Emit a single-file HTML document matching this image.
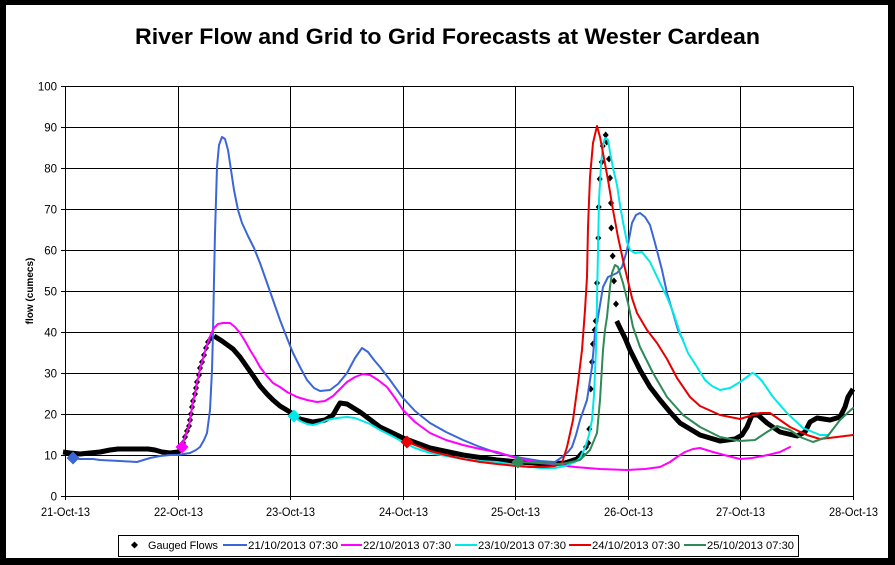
<!DOCTYPE html>
<html>
<head>
<meta charset="utf-8">
<style>
  html, body { margin: 0; padding: 0; background: #000; }
  svg { display: block; }
  text { font-family: "Liberation Sans", Arial, sans-serif; fill: #000; }
</style>
</head>
<body>
<svg width="895" height="565" viewBox="0 0 895 565" xmlns="http://www.w3.org/2000/svg">
  <rect x="0" y="0" width="895" height="565" fill="#000"/>
  <rect x="6" y="5" width="882" height="553" fill="#fff"/>

  <!-- Title -->
  <text x="447.5" y="44" text-anchor="middle" font-size="22" font-weight="bold" textLength="625" lengthAdjust="spacingAndGlyphs">River Flow and Grid to Grid Forecasts at Wester Cardean</text>

  <!-- Gridlines -->
  <g stroke="#000" stroke-width="1" fill="none" shape-rendering="crispEdges">
    <line x1="65.5" y1="86.5" x2="853.5" y2="86.5"/>
    <line x1="65.5" y1="127.5" x2="853.5" y2="127.5"/>
    <line x1="65.5" y1="168.5" x2="853.5" y2="168.5"/>
    <line x1="65.5" y1="209.5" x2="853.5" y2="209.5"/>
    <line x1="65.5" y1="250.5" x2="853.5" y2="250.5"/>
    <line x1="65.5" y1="291.5" x2="853.5" y2="291.5"/>
    <line x1="65.5" y1="332.5" x2="853.5" y2="332.5"/>
    <line x1="65.5" y1="373.5" x2="853.5" y2="373.5"/>
    <line x1="65.5" y1="414.5" x2="853.5" y2="414.5"/>
    <line x1="65.5" y1="455.5" x2="853.5" y2="455.5"/>
    <line x1="61" y1="496.5" x2="853.5" y2="496.5"/>
    <line x1="65.5" y1="86.5" x2="65.5" y2="500"/>
    <line x1="178.5" y1="86.5" x2="178.5" y2="500"/>
    <line x1="290.5" y1="86.5" x2="290.5" y2="500"/>
    <line x1="403.5" y1="86.5" x2="403.5" y2="500"/>
    <line x1="515.5" y1="86.5" x2="515.5" y2="500"/>
    <line x1="628.5" y1="86.5" x2="628.5" y2="500"/>
    <line x1="740.5" y1="86.5" x2="740.5" y2="500"/>
    <line x1="853.5" y1="86.5" x2="853.5" y2="500"/>
    <!-- y ticks -->
    <line x1="61" y1="86.5" x2="65.5" y2="86.5"/>
    <line x1="61" y1="127.5" x2="65.5" y2="127.5"/>
    <line x1="61" y1="168.5" x2="65.5" y2="168.5"/>
    <line x1="61" y1="209.5" x2="65.5" y2="209.5"/>
    <line x1="61" y1="250.5" x2="65.5" y2="250.5"/>
    <line x1="61" y1="291.5" x2="65.5" y2="291.5"/>
    <line x1="61" y1="332.5" x2="65.5" y2="332.5"/>
    <line x1="61" y1="373.5" x2="65.5" y2="373.5"/>
    <line x1="61" y1="414.5" x2="65.5" y2="414.5"/>
    <line x1="61" y1="455.5" x2="65.5" y2="455.5"/>
  </g>

  <!-- Y tick labels -->
  <g font-size="11.5" text-anchor="end">
    <text x="57" y="90.5">100</text>
    <text x="57" y="131.5">90</text>
    <text x="57" y="172.5">80</text>
    <text x="57" y="213.5">70</text>
    <text x="57" y="254.5">60</text>
    <text x="57" y="295.5">50</text>
    <text x="57" y="336.5">40</text>
    <text x="57" y="377.5">30</text>
    <text x="57" y="418.5">20</text>
    <text x="57" y="459.5">10</text>
    <text x="57" y="500.5">0</text>
  </g>

  <!-- X tick labels -->
  <g font-size="11.5" text-anchor="middle">
    <text x="65.5" y="516" textLength="49" lengthAdjust="spacingAndGlyphs">21-Oct-13</text>
    <text x="178.5" y="516" textLength="49" lengthAdjust="spacingAndGlyphs">22-Oct-13</text>
    <text x="290.5" y="516" textLength="49" lengthAdjust="spacingAndGlyphs">23-Oct-13</text>
    <text x="403.5" y="516" textLength="49" lengthAdjust="spacingAndGlyphs">24-Oct-13</text>
    <text x="515.5" y="516" textLength="49" lengthAdjust="spacingAndGlyphs">25-Oct-13</text>
    <text x="628.5" y="516" textLength="49" lengthAdjust="spacingAndGlyphs">26-Oct-13</text>
    <text x="740.5" y="516" textLength="49" lengthAdjust="spacingAndGlyphs">27-Oct-13</text>
    <text x="853.5" y="516" textLength="49" lengthAdjust="spacingAndGlyphs">28-Oct-13</text>
  </g>

  <!-- Y axis title -->
  <text x="0" y="0" font-size="10" font-weight="bold" text-anchor="middle" transform="translate(33,291) rotate(-90)">flow (cumecs)</text>

  <!-- Gauged flows (thick marker line) -->
  <g fill="none" stroke="#000" stroke-width="5" stroke-linejoin="round" stroke-linecap="butt">
    <polyline points="63,452 70,453 80,454 90,453 100,452 110,450 118,449 128,449 138,449 148,449 155,450 162,452 170,453 178,452 182,449"/>
    <polyline points="214,336 222,341 233,349 240,357 247,367 254,377 260,386 267,394 273,400 280,406 290,412 300,419 313,422 325,420 333,415 337,408 340,403 347,404 360,412 380,427 403,438 430,448 463,455 497,460 520,462 545,464 565,463 577,459 583,452"/>
    <polyline points="616.7,321 620,328 625,338 630,350 640,370 650,387 660,400 670,412 680,423 700,435 720,441 735,439 742,435 747,427 752,415 758,415 767,423 780,432 797,436 805,432 810,422 817,418 830,420 840,417 845,407 848,397 853,389"/>
  </g>
  <!-- Gauged diamonds on rising limb 22-Oct -->
  <g fill="#000" stroke="none">
    <path d="M183,439.5 l3,3.5 l-3,3.5 l-3,-3.5z"/>
    <path d="M185,433.5 l3,3.5 l-3,3.5 l-3,-3.5z"/>
    <path d="M187,427.5 l3,3.5 l-3,3.5 l-3,-3.5z"/>
    <path d="M189,422.5 l3,3.5 l-3,3.5 l-3,-3.5z"/>
    <path d="M190,416.5 l3,3.5 l-3,3.5 l-3,-3.5z"/>
    <path d="M191,410.5 l3,3.5 l-3,3.5 l-3,-3.5z"/>
    <path d="M192,403.5 l3,3.5 l-3,3.5 l-3,-3.5z"/>
    <path d="M193,397.5 l3,3.5 l-3,3.5 l-3,-3.5z"/>
    <path d="M195,390.5 l3,3.5 l-3,3.5 l-3,-3.5z"/>
    <path d="M196,384.5 l3,3.5 l-3,3.5 l-3,-3.5z"/>
    <path d="M197,378.5 l3,3.5 l-3,3.5 l-3,-3.5z"/>
    <path d="M199,371.5 l3,3.5 l-3,3.5 l-3,-3.5z"/>
    <path d="M200,364.5 l3,3.5 l-3,3.5 l-3,-3.5z"/>
    <path d="M202,358.5 l3,3.5 l-3,3.5 l-3,-3.5z"/>
    <path d="M204,351.5 l3,3.5 l-3,3.5 l-3,-3.5z"/>
    <path d="M206,344.5 l3,3.5 l-3,3.5 l-3,-3.5z"/>
    <path d="M208,338.5 l3,3.5 l-3,3.5 l-3,-3.5z"/>
    <path d="M211,334.5 l3,3.5 l-3,3.5 l-3,-3.5z"/>
  </g>
  <!-- Gauged diamonds on 25/26-Oct peak -->
  <g fill="#000" stroke="none">
    <path d="M586,443.5 l3,3.5 l-3,3.5 l-3,-3.5z"/>
    <path d="M588.3,439.5 l3,3.5 l-3,3.5 l-3,-3.5z"/>
    <path d="M589.3,425.5 l3,3.5 l-3,3.5 l-3,-3.5z"/>
    <path d="M590.7,385.5 l3,3.5 l-3,3.5 l-3,-3.5z"/>
    <path d="M592,358.5 l3,3.5 l-3,3.5 l-3,-3.5z"/>
    <path d="M593,340.5 l3,3.5 l-3,3.5 l-3,-3.5z"/>
    <path d="M594.7,326.5 l3,3.5 l-3,3.5 l-3,-3.5z"/>
    <path d="M595.7,317.5 l3,3.5 l-3,3.5 l-3,-3.5z"/>
    <path d="M597,279.5 l3,3.5 l-3,3.5 l-3,-3.5z"/>
    <path d="M598.3,234.5 l3,3.5 l-3,3.5 l-3,-3.5z"/>
    <path d="M598.7,203.5 l3,3.5 l-3,3.5 l-3,-3.5z"/>
    <path d="M599.7,175.5 l3,3.5 l-3,3.5 l-3,-3.5z"/>
    <path d="M601.7,158.5 l3,3.5 l-3,3.5 l-3,-3.5z"/>
    <path d="M602.7,142.5 l3,3.5 l-3,3.5 l-3,-3.5z"/>
    <path d="M605.7,131.5 l3,3.5 l-3,3.5 l-3,-3.5z"/>
    <path d="M606.7,138.5 l3,3.5 l-3,3.5 l-3,-3.5z"/>
    <path d="M609,155.5 l3,3.5 l-3,3.5 l-3,-3.5z"/>
    <path d="M610,174.5 l3,3.5 l-3,3.5 l-3,-3.5z"/>
    <path d="M611,199.5 l3,3.5 l-3,3.5 l-3,-3.5z"/>
    <path d="M611.3,224.5 l3,3.5 l-3,3.5 l-3,-3.5z"/>
    <path d="M612.7,252.5 l3,3.5 l-3,3.5 l-3,-3.5z"/>
    <path d="M614,277.5 l3,3.5 l-3,3.5 l-3,-3.5z"/>
    <path d="M616,300.5 l3,3.5 l-3,3.5 l-3,-3.5z"/>
  </g>

  <!-- Forecast lines -->
  <g fill="none" stroke-width="2" stroke-linejoin="round" stroke-linecap="round">
    <!-- 21/10 blue -->
    <polyline stroke="#3a66d8" points="73,458 80,459 93,459 100,460 120,461 137,462 150,458 160,456 170,455 178,455 190,453 196,450 200,447 204,440 207,433 210,410 212,370 213,333 214,280 215,233 217,167 219,145 222,137 225,139 228,150 231,170 234,190 238,210 242,223 248,236 254,248 260,263 266,280 273,300 280,320 287,338 293,353 300,367 307,380 314,388 320,391 330,390 338,384 347,373 355,358 362,348 368,352 374,360 380,367 390,380 403,398 415,411 430,423 446,432 463,440 480,447 497,453 516,457 540,461 555,462 562,457 568,452 572,447 576,435 580,420 587,400 592,367 595,333 598,317 603,287 608,277 617,273 622,267 627,250 632,223 636,215 640,213 645,217 650,225 655,243 662,270 667,293 673,313 678,330 683,340"/>
    <!-- 22/10 magenta -->
    <polyline stroke="#ff00ff" points="182,447 183,443 185,437 187,431 189,426 190,420 191,414 192,407 193,401 195,394 196,388 197,382 199,375 200,368 202,362 204,355 206,348 208,342 211,334 214,328 218,324 223,323 230,323 235,327 240,333 245,341 250,350 255,358 260,367 266,375 273,383 280,387 287,392 297,397 307,400 317,402 325,401 333,396 340,389 347,382 355,377 363,374 370,375 378,380 387,387 395,398 403,410 415,422 430,433 446,440 463,445 480,449 497,452 516,458 540,463 560,465 575,467 600,469 627,470 645,469 660,467 670,462 677,457 685,452 693,449 700,448 713,452 728,456 740,459 752,458 763,456 772,454 780,452 790,447"/>
    <!-- 23/10 cyan -->
    <polyline stroke="#00e8e8" points="294,416 300,421 307,424 313,425 320,423 327,420 337,418 347,417 355,418 360,420 370,424 380,430 392,436 403,442 415,448 430,453 446,456 463,459 480,461 497,462 516,465 540,468 555,468 565,466 575,462 580,458 585,448 589,435 592,420 594,395 596,350 597,300 598,250 599,200 601,165 603,145 605,138 608,140 610,152 613,168 617,185 620,205 623,222 627,242 630,250 635,253 642,252 650,262 660,283 667,297 673,312 680,333 688,353 697,367 705,380 712,386 720,390 730,388 740,382 747,377 752,373 755,374 762,381 773,397 787,413 803,428 820,435 828,435"/>
    <!-- 24/10 red -->
    <polyline stroke="#e80000" points="407,442 420,447 430,451 446,455 463,459 480,462 497,464 516,466 530,467 545,467 555,466 562,463 567,447 573,420 578,383 582,350 585,310 587,277 588,227 590,177 593,143 597,126 600,137 603,153 608,180 613,210 618,237 623,260 627,277 632,298 637,313 647,330 657,343 667,359 677,378 690,397 700,406 720,415 740,419 760,413 770,413 790,427 807,435 820,439 837,437 853,435"/>
    <!-- 25/10 green -->
    <polyline stroke="#2e8b57" points="518,462 540,463 560,464 567,463 580,460 590,450 597,433 600,400 603,350 605,330 607,317 610,287 612,273 615,265 618,267 623,283 628,303 633,327 640,347 653,373 667,397 683,415 700,427 720,437 740,441 755,440 767,432 777,426 790,430 800,437 813,442 827,437 840,420 853,408"/>
  </g>

  <!-- Forecast start markers -->
  <path d="M73,451.5 l6.5,6.5 l-6.5,6.5 l-6.5,-6.5z" fill="#3a66d8"/>
  <path d="M182,440.5 l6.5,6.5 l-6.5,6.5 l-6.5,-6.5z" fill="#ff00ff"/>
  <path d="M294,409.5 l6.5,6.5 l-6.5,6.5 l-6.5,-6.5z" fill="#00e8e8"/>
  <path d="M407,435.5 l6.5,6.5 l-6.5,6.5 l-6.5,-6.5z" fill="#e80000"/>
  <path d="M518,455.5 l6.5,6.5 l-6.5,6.5 l-6.5,-6.5z" fill="#2e8b57"/>

  <!-- Legend -->
  <rect x="118.5" y="535.5" width="680" height="21" fill="#fff" stroke="#000" stroke-width="1" shape-rendering="crispEdges"/>
  <path d="M134.5,541.5 l3.5,3.5 l-3.5,3.5 l-3.5,-3.5z" fill="#000"/>
  <g font-size="11">
    <text x="148" y="549" textLength="70" lengthAdjust="spacingAndGlyphs">Gauged Flows</text>
    <text x="248" y="549" textLength="90" lengthAdjust="spacingAndGlyphs">21/10/2013 07:30</text>
    <text x="363" y="549" textLength="88" lengthAdjust="spacingAndGlyphs">22/10/2013 07:30</text>
    <text x="478" y="549" textLength="88" lengthAdjust="spacingAndGlyphs">23/10/2013 07:30</text>
    <text x="592" y="549" textLength="88" lengthAdjust="spacingAndGlyphs">24/10/2013 07:30</text>
    <text x="707" y="549" textLength="87" lengthAdjust="spacingAndGlyphs">25/10/2013 07:30</text>
  </g>
  <g stroke-width="2">
    <line x1="223" y1="545" x2="247" y2="545" stroke="#3a66d8"/>
    <line x1="341" y1="545" x2="362" y2="545" stroke="#ff00ff"/>
    <line x1="455" y1="545" x2="477" y2="545" stroke="#00e8e8"/>
    <line x1="569" y1="545" x2="591" y2="545" stroke="#e80000"/>
    <line x1="684" y1="545" x2="706" y2="545" stroke="#2e8b57"/>
  </g>
</svg>
</body>
</html>
